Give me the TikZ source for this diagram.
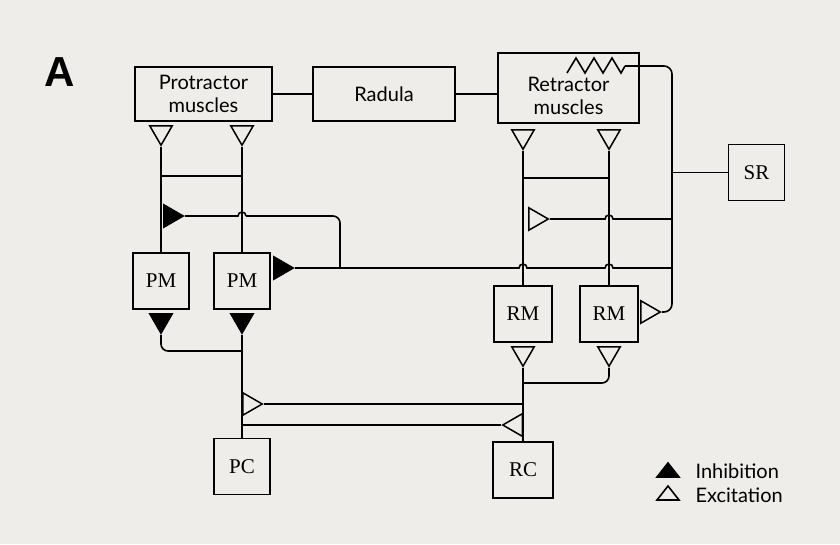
\documentclass[tikz,border=0pt]{standalone}
\usepackage{fontspec}
\setmainfont{Liberation Serif}
\newfontfamily\labelfont{Lato}
\newfontfamily\headfont{Liberation Sans}
\usetikzlibrary{positioning,shapes.geometric,calc}
\definecolor{paper}{HTML}{EEEDEA}

% small bump where a wire passes over another one
\newcommand{\hopr}[2]{-- ($(#1 |- #2)+(-4,0)$) arc[start angle=180,end angle=0,radius=4pt]}

\begin{document}
\begin{tikzpicture}[x=1pt, y=-1pt,
        box/.style={draw, line width=1.6pt, fill=paper, inner sep=0pt, align=center, font=\labelfont\fontsize{20}{23}\selectfont},
        cell/.style={draw, line width=1.6pt, fill=paper, minimum width=56pt, minimum height=56pt, inner sep=0pt, font=\fontsize{21}{21}\selectfont},
        syn/.style={regular polygon, regular polygon sides=3, minimum size=26pt, inner sep=0pt, draw, line width=1.5pt, anchor=side 2},
        exc/.style={syn, fill=paper},
        inh/.style={syn, fill=black},
        pdown/.style={shape border rotate=180},
        pright/.style={shape border rotate=-90},
        pleft/.style={shape border rotate=90},
        wire/.style={line width=1.6pt}]
      \fill[paper] (0,0) rectangle (840,544);
      \useasboundingbox (0,0) rectangle (840,544);
      \node[font=\headfont\bfseries\fontsize{42}{42}\selectfont] (lblA) at (60,72) {A};
      % muscles
      \node[box, minimum width=137pt, minimum height=54pt] (prot) at (203.5,94) {Protractor\\muscles};
      \node[box, minimum width=142pt, minimum height=54pt] (rad) at (384,94) {Radula};
      \node[box, minimum width=141pt, minimum height=70pt] (ret) at (568.5,88) {};
      \node[align=center, font=\labelfont\fontsize{20}{23}\selectfont] (rettxt) at (568.5,96) {Retractor\\muscles};
      % neurons
      \node[cell] (sr) at (756.5,172.5) {SR};
      \node[cell] (pm1) at (161,281) {PM};
      \node[cell] (pm2) at (242,281) {PM};
      \node[cell, minimum width=58pt] (rm1) at (523,314) {RM};
      \node[cell, minimum width=58pt] (rm2) at (609,314) {RM};
      \node[cell] (pc) at (242,466.5) {PC};
      \node[cell, minimum width=60pt] (rc) at (523,470) {RC};
      % synapses
      \node[exc, pdown] (pa) at (161,125) {};
      \node[exc, pdown] (pb) at (242,125) {};
      \node[exc, pdown] (ra) at (523,129) {};
      \node[exc, pdown] (rb) at (609,129) {};
      \node[inh, pright] (i1) at (163,216) {};
      \node[inh, pright] (i2) at (273,268) {};
      \node[exc, pright] (e1) at (528,219) {};
      \node[exc, pright] (e2) at (640,312) {};
      \node[inh, pdown] (pm1b) at (161,313) {};
      \node[inh, pdown] (pm2b) at (242,313) {};
      \node[exc, pdown] (rm1b) at (523,346) {};
      \node[exc, pdown] (rm2b) at (609,346) {};
      \node[exc, pright] (pcx) at (242,404) {};
      \node[exc, pleft] (rcx) at (523,425) {};
      \coordinate (zz) at (567,73);
      \coordinate (srx) at (672,66);
      \coordinate (j1) at (340,268);
      \coordinate (k1) at (161,176);
      \coordinate (k2) at (523,178);
      \coordinate (k3) at (242,351);
      \coordinate (k4) at (523,383);
      % wires
      \draw[wire] (prot) -- (rad);
      \draw[wire] (rad.east) -- (rad.east -| ret.west);
      \draw[wire] (pa.corner 1) -- (pm1);
      \draw[wire] (pb.corner 1) -- (pm2);
      \draw[wire] (k1) -- (k1 -| pb.corner 1);
      \draw[wire] (ra.corner 1) -- (rm1);
      \draw[wire] (rb.corner 1) -- (rm2);
      \draw[wire] (k2) -- (k2 -| rb.corner 1);
      \draw[wire] (pm2b.corner 1) -- (pc);
      \draw[wire, rounded corners=7pt] (pm1b.corner 1) |- (k3);
      \draw[wire] (rm1b.corner 1) -- (rc);
      \draw[wire, rounded corners=7pt] (rm2b.corner 1) |- (k4);
      \draw[wire] (pcx.corner 1) -- (pcx.corner 1 -| rc.north);
      \draw[wire] (rcx.corner 1) -- (rcx.corner 1 -| pc.north);
      % stretch receptor
      \draw[wire] (zz) -- ++(9,-15) -- ++(9,15) -- ++(9,-15) -- ++(9,15) -- ++(9,-15) -- ++(9,15) -- ++(4,-7) coordinate (zzend);
      \draw[wire, rounded corners=8pt] (zzend) -- (zzend -| srx) -- (srx |- e2.corner 1) -- (e2.corner 1);
      \draw[wire] (sr.west) -- (sr.west -| srx);
      \draw[wire] (e1.corner 1) \hopr{rb.corner 1}{e1.corner 1} -- (e1.corner 1 -| srx);
      \draw[wire] (i2.corner 1) \hopr{ra.corner 1}{i2.corner 1} \hopr{rb.corner 1}{i2.corner 1} -- (i2.corner 1 -| srx);
      \draw[wire] (i1.corner 1) \hopr{pb.corner 1}{i1.corner 1} coordinate (h1);
      \draw[wire, rounded corners=7pt] (h1) -- (h1 -| j1) -- (j1);
      % legend
      \node[anchor=west, font=\labelfont\fontsize{20}{23}\selectfont] (linh) at (692,471) {Inhibition};
      \node[anchor=west, font=\labelfont\fontsize{20}{23}\selectfont] (lexc) at (692,495) {Excitation};
      \filldraw[wire] (657,477) -- (679,477) -- (668,463) -- cycle;
      \draw[wire, fill=paper] (657,500) -- (679,500) -- (668,486) -- cycle;
\end{tikzpicture}
\end{document}
